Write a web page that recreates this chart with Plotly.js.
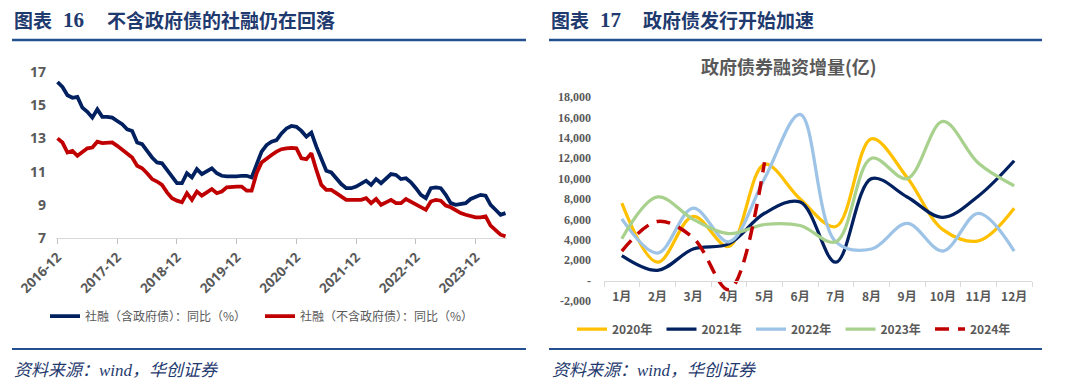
<!DOCTYPE html>
<html><head><meta charset="utf-8">
<script src="https://cdn.plot.ly/plotly-3.0.1.min.js"></script>
<style>html,body{margin:0;padding:0;background:#fff;}#chart{width:1080px;height:391px;}</style>
</head><body><div id="chart"></div>
<script>
// ---------- Left chart data (社融存量同比, %) ----------
const startYear = 2016, startMonth = 12, nMonths = 91;
const monthLabels = [];
for (let i = 0; i < nMonths; i++) {
  const t = startMonth - 1 + i;
  const y = startYear + Math.floor(t / 12);
  const m = (t % 12) + 1;
  monthLabels.push(y + '-' + (m < 10 ? '0' + m : m));
}
const leftTickLabels = ['2016-12','2017-12','2018-12','2019-12','2020-12','2021-12','2022-12','2023-12'];
const leftYTicks = [7, 9, 11, 13, 15, 17];

const tsfWithGov = [
  16.4, 16.1, 15.6, 15.45, 15.5, 14.85, 14.6, 14.25, 14.75, 14.3, 14.3, 14.25,
  14.05, 13.85, 13.55, 13.45, 12.75, 12.65, 12.25, 11.85, 11.55, 11.5, 11.1, 10.7,
  10.3, 10.3, 10.9, 10.65, 11.15, 10.85, 11.0, 11.2, 10.9, 10.75, 10.72, 10.7,
  10.72, 10.75, 10.75, 10.65, 11.5, 12.2, 12.6, 12.8, 12.9, 13.3, 13.6, 13.75,
  13.7, 13.45, 13.1, 13.35, 12.5, 11.7, 11.05, 10.95, 10.6, 10.25, 10.0, 10.0,
  10.1, 10.3, 10.45, 10.2, 10.55, 10.3, 10.6, 10.85, 10.8, 10.55, 10.6, 10.35,
  10.0, 9.6, 9.4, 10.0, 10.05, 10.0, 9.6, 9.1, 9.0, 9.05, 9.1, 9.35,
  9.45, 9.6, 9.55, 9.0, 8.7, 8.4, 8.5
];
const tsfExGov = [
  13.0, 12.75, 12.15, 12.25, 11.95, 12.2, 12.4, 12.45, 12.8, 12.72, 12.72, 12.76,
  12.55, 12.3, 12.05, 11.85, 11.35, 11.2, 10.9, 10.55, 10.4, 10.2, 9.75, 9.4,
  9.25, 9.15, 9.7, 9.3, 9.8, 9.55, 9.75, 9.95, 9.7, 9.8, 10.05, 10.1,
  10.1, 10.1, 9.85, 9.85, 10.9, 11.55, 11.8, 12.0, 12.2, 12.35, 12.4, 12.43,
  12.4, 11.8, 11.75, 12.1, 11.1, 10.2, 9.9, 9.9, 9.7, 9.5, 9.3, 9.3,
  9.3, 9.3, 9.4, 9.1, 9.35, 9.0, 9.15, 9.3, 9.1, 9.1, 9.35, 9.2,
  9.0, 8.85, 8.7, 9.2, 9.3, 9.25, 8.95, 8.85, 8.65, 8.5, 8.4, 8.3,
  8.25, 8.25, 8.3, 7.75, 7.5, 7.2, 7.1
];

// ---------- Right chart data (政府债券融资增量, 亿) ----------
const monthNames = ['1月','2月','3月','4月','5月','6月','7月','8月','9月','10月','11月','12月'];
const gov2020 = [7600, 1800, 6300, 3350, 11400, 8000, 5300, 13900, 10100, 5000, 3900, 7100];
const gov2021 = [2450, 1000, 3100, 3600, 6600, 7700, 1800, 10000, 8200, 6200, 8300, 11750];
const gov2022 = [6050, 2700, 7100, 3800, 10000, 16300, 3800, 3100, 5600, 2900, 6600, 2900];
const gov2023 = [4100, 8200, 6000, 4600, 5500, 5400, 3800, 12000, 10000, 15600, 11500, 9300];
const gov2024 = [2900, 5800, 4200, -900, 11600];
const rightYTicks = [-2000, 0, 2000, 4000, 6000, 8000, 10000, 12000, 14000, 16000, 18000];
const rightYTickText = ['-2,000', '-', '2,000', '4,000', '6,000', '8,000', '10,000', '12,000', '14,000', '16,000', '18,000'];

// ---------- helpers ----------
const W = 1080, H = 391;
const px = x => x / W;
const py = y => 1 - y / H;
const GRAY = '#595959';
const NAVY_T = '#1F3A6E';
const CJK = 'Noto Sans CJK SC';

const traces = [
  {x: monthLabels, y: tsfWithGov, type: 'scatter', mode: 'lines', name: '社融（含政府债）：同比（%）',
   line: {color: '#002060', width: 3.75}, xaxis: 'x', yaxis: 'y', legend: 'legend', hoverinfo: 'skip'},
  {x: monthLabels, y: tsfExGov, type: 'scatter', mode: 'lines', name: '社融（不含政府债）：同比（%）',
   line: {color: '#C00000', width: 3.75}, xaxis: 'x', yaxis: 'y', legend: 'legend', hoverinfo: 'skip'},
  {x: monthNames, y: gov2020, type: 'scatter', mode: 'lines', name: '2020年',
   line: {color: '#FFC000', width: 3.25, shape: 'spline', smoothing: 1}, xaxis: 'x2', yaxis: 'y2', legend: 'legend2'},
  {x: monthNames, y: gov2021, type: 'scatter', mode: 'lines', name: '2021年',
   line: {color: '#002060', width: 3.25, shape: 'spline', smoothing: 1}, xaxis: 'x2', yaxis: 'y2', legend: 'legend2'},
  {x: monthNames, y: gov2022, type: 'scatter', mode: 'lines', name: '2022年',
   line: {color: '#9DC3E6', width: 3.25, shape: 'spline', smoothing: 1}, xaxis: 'x2', yaxis: 'y2', legend: 'legend2'},
  {x: monthNames, y: gov2023, type: 'scatter', mode: 'lines', name: '2023年',
   line: {color: '#A9D18E', width: 3.25, shape: 'spline', smoothing: 1}, xaxis: 'x2', yaxis: 'y2', legend: 'legend2'},
  {x: monthNames.slice(0, gov2024.length), y: gov2024, type: 'scatter', mode: 'lines', name: '2024年',
   line: {color: '#C00000', width: 3.5, shape: 'spline', smoothing: 1, dash: '14px,9px'}, xaxis: 'x2', yaxis: 'y2', legend: 'legend2'}
];

const y2Domain = [py(301), py(97)];
const y2Range = [-2000, 18000];
const zeroPos = y2Domain[0] + (0 - y2Range[0]) / (y2Range[1] - y2Range[0]) * (y2Domain[1] - y2Domain[0]);

const layout = {
  width: W, height: H,
  margin: {l: 0, r: 0, t: 0, b: 0},
  paper_bgcolor: '#fff', plot_bgcolor: 'rgba(0,0,0,0)',
  showlegend: true,
  xaxis: {
    domain: [px(56), px(507)], type: 'category', range: [-0.3, nMonths - 1 + 0.3],
    tickvals: leftTickLabels, ticktext: leftTickLabels, tickangle: -45,
    ticks: 'outside', ticklen: 5, tickcolor: '#BFBFBF', showline: true, linecolor: '#D9D9D9', linewidth: 1,
    showgrid: false, zeroline: false,
    tickfont: {family: 'Open Sans', size: 13.5, color: GRAY, weight: 'bold'}, fixedrange: true
  },
  yaxis: {
    domain: [py(238), py(72)], range: [7, 17], tickvals: leftYTicks,
    showgrid: false, zeroline: false, showline: false, ticks: '', ticklabelstandoff: 9,
    tickfont: {family: 'Open Sans', size: 14, color: GRAY, weight: 'bold'}, fixedrange: true
  },
  xaxis2: {
    domain: [px(604), px(1032)], type: 'category', range: [-0.5, 11.5], tickangle: 0,
    anchor: 'free', position: zeroPos, showline: true, linecolor: '#D9D9D9', linewidth: 1,
    ticks: 'outside', tickson: 'boundaries', ticklen: 5, tickcolor: '#D9D9D9', ticklabelstandoff: 5,
    showgrid: false, zeroline: false,
    tickfont: {family: CJK, size: 12, color: GRAY, weight: 'bold'}, fixedrange: true
  },
  yaxis2: {
    domain: y2Domain, range: y2Range, anchor: 'x2', tickvals: rightYTicks, ticktext: rightYTickText,
    showgrid: false, zeroline: false, showline: false, ticks: '', ticklabelstandoff: 12,
    tickfont: {family: 'Liberation Serif', size: 12, color: GRAY, weight: 'bold'}, fixedrange: true
  },
  legend: {
    orientation: 'h', x: px(45), xanchor: 'left', y: py(316), yanchor: 'middle',
    entrywidth: 170, entrywidthmode: 'pixels',
    font: {family: CJK, size: 12, color: GRAY}, bgcolor: 'rgba(0,0,0,0)'
  },
  legend2: {
    orientation: 'h', x: px(572), xanchor: 'left', y: py(329), yanchor: 'middle',
    entrywidth: 44.5, entrywidthmode: 'pixels',
    font: {family: CJK, size: 12, color: GRAY, weight: 'bold'}, bgcolor: 'rgba(0,0,0,0)'
  },
  shapes: [
    {type: 'line', xref: 'paper', yref: 'paper', x0: px(12), x1: px(526), y0: py(40), y1: py(40), line: {color: '#24508F', width: 2.5}},
    {type: 'line', xref: 'paper', yref: 'paper', x0: px(549), x1: px(1042), y0: py(40), y1: py(40), line: {color: '#24508F', width: 2.5}},
    {type: 'line', xref: 'paper', yref: 'paper', x0: px(12), x1: px(526), y0: py(349), y1: py(349), line: {color: '#24508F', width: 2}},
    {type: 'line', xref: 'paper', yref: 'paper', x0: px(549), x1: px(1042), y0: py(349), y1: py(349), line: {color: '#24508F', width: 2}}
  ],
  annotations: [
    {xref: 'paper', yref: 'paper', x: px(12), y: py(20), xanchor: 'left', yanchor: 'middle', showarrow: false,
     text: '图表', font: {family: CJK, size: 19, color: NAVY_T, weight: 'bold'}},
    {xref: 'paper', yref: 'paper', x: px(61), y: py(20), xanchor: 'left', yanchor: 'middle', showarrow: false,
     text: '16', font: {family: 'Liberation Serif', size: 21, color: NAVY_T, weight: 'bold'}},
    {xref: 'paper', yref: 'paper', x: px(105), y: py(20), xanchor: 'left', yanchor: 'middle', showarrow: false,
     text: '不含政府债的社融仍在回落', font: {family: CJK, size: 19, color: NAVY_T, weight: 'bold'}},
    {xref: 'paper', yref: 'paper', x: px(549), y: py(20), xanchor: 'left', yanchor: 'middle', showarrow: false,
     text: '图表', font: {family: CJK, size: 19, color: NAVY_T, weight: 'bold'}},
    {xref: 'paper', yref: 'paper', x: px(598), y: py(20), xanchor: 'left', yanchor: 'middle', showarrow: false,
     text: '17', font: {family: 'Liberation Serif', size: 21, color: NAVY_T, weight: 'bold'}},
    {xref: 'paper', yref: 'paper', x: px(641), y: py(20), xanchor: 'left', yanchor: 'middle', showarrow: false,
     text: '政府债发行开始加速', font: {family: CJK, size: 19, color: NAVY_T, weight: 'bold'}},
    {xref: 'paper', yref: 'paper', x: px(789), y: py(66), xanchor: 'center', yanchor: 'middle', showarrow: false,
     text: '政府债券融资增量(亿)', font: {family: CJK, size: 18, color: GRAY, weight: 'bold'}},
    {xref: 'paper', yref: 'paper', x: px(12), y: py(370), xanchor: 'left', yanchor: 'middle', showarrow: false,
     text: '<i>资料来源：wind，华创证券</i>', font: {family: 'Liberation Serif, ' + CJK, size: 17, color: NAVY_T}},
    {xref: 'paper', yref: 'paper', x: px(550), y: py(370), xanchor: 'left', yanchor: 'middle', showarrow: false,
     text: '<i>资料来源：wind，华创证券</i>', font: {family: 'Liberation Serif, ' + CJK, size: 17, color: NAVY_T}}
  ]
};

Plotly.newPlot('chart', traces, layout, {staticPlot: true, displayModeBar: false});
</script></body></html>
